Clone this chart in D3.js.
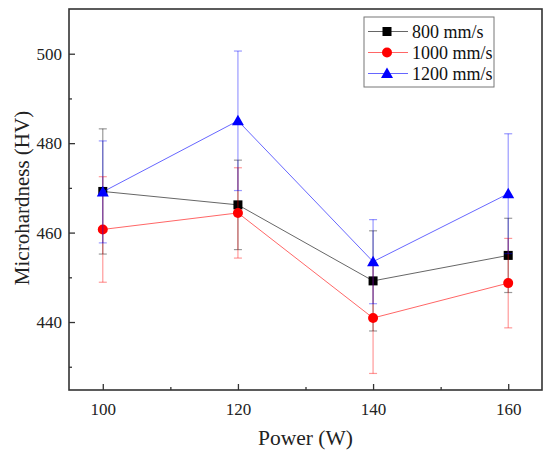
<!DOCTYPE html>
<html lang="en">
<head>
  <meta charset="UTF-8">
  <title>Microhardness vs power</title>
  <script src="https://d3js.org/d3.v7.min.js"></script>
  <style>
    body { margin: 0; background: #fff; }
  </style>
</head>
<body>
<svg id="chart" width="550" height="456"></svg>
<script>
  // power levels (W)
  const power = [100, 120, 140, 160];
  // scan speeds
  const speeds = ["800 mm/s", "1000 mm/s", "1200 mm/s"];
  // mean microhardness (HV)
  const hv800 = [469.2, 466.2, 449.2, 454.9];
  const hv1000 = [460.7, 464.4, 440.9, 448.7];
  const hv1200 = [469.1, 485.0, 453.5, 468.7];
  // error bar half-widths
  const err800 = [14.0, 10.0, 11.2, 8.3];
  const err1000 = [11.8, 10.1, 12.4, 10.0];
  const err1200 = [11.4, 15.6, 9.4, 13.4];
  const xTicks = [100, 120, 140, 160];
  const yTicks = [440, 460, 480, 500];

  const series = [
    {name: speeds[0], values: hv800, err: err800, color: "#000000", shape: "square"},
    {name: speeds[1], values: hv1000, err: err1000, color: "#ff0000", shape: "circle"},
    {name: speeds[2], values: hv1200, err: err1200, color: "#0000ff", shape: "triangle"}
  ];

  const svg = d3.select("#chart");
  const margin = {top: 9, right: 8, bottom: 66, left: 69};
  const width = 550, height = 456;
  const serif = '"Liberation Serif"';

  const x = d3.scaleLinear().domain([95, 165]).range([margin.left, width - margin.right]);
  const y = d3.scaleLinear().domain([424.8, 510]).range([height - margin.bottom, margin.top]);

  const axisColor = "#333";

  // x axis (ticks inward)
  svg.append("g")
    .attr("transform", `translate(0,${height - margin.bottom})`)
    .call(d3.axisBottom(x).tickValues(xTicks).tickSize(-6).tickPadding(13).tickFormat(d3.format("d")));
  svg.append("g")
    .attr("transform", `translate(0,${height - margin.bottom})`)
    .call(d3.axisBottom(x).tickValues([110, 130, 150]).tickSize(-3).tickFormat(""));

  // y axis (ticks inward)
  svg.append("g")
    .attr("transform", `translate(${margin.left},0)`)
    .call(d3.axisLeft(y).tickValues(yTicks).tickSize(-6).tickPadding(7).tickFormat(d3.format("d")));
  svg.append("g")
    .attr("transform", `translate(${margin.left},0)`)
    .call(d3.axisLeft(y).tickValues([430, 450, 470, 490]).tickSize(-3).tickFormat(""));

  svg.selectAll(".tick text")
    .style("font-family", serif).style("font-size", "17px").attr("fill", "#222");
  svg.selectAll(".domain").remove();
  svg.selectAll(".tick line").attr("stroke", axisColor).attr("stroke-width", 1.3);

  // frame
  svg.append("rect")
    .attr("x", margin.left)
    .attr("y", margin.top)
    .attr("width", width - margin.left - margin.right)
    .attr("height", height - margin.top - margin.bottom)
    .attr("fill", "none")
    .attr("stroke", axisColor)
    .attr("stroke-width", 1.6);

  // axis titles
  svg.append("text")
    .attr("x", (margin.left + width - margin.right) / 2)
    .attr("y", 445)
    .attr("text-anchor", "middle")
    .style("font-family", serif).style("font-size", "21.5px")
    .attr("fill", "#222")
    .text("Power (W)");
  svg.append("text")
    .attr("transform", "translate(29,198) rotate(-90)")
    .attr("text-anchor", "middle")
    .style("font-family", serif).style("font-size", "21px")
    .attr("fill", "#222")
    .text("Microhardness (HV)");

  function marker(g, shape, color) {
    if (shape === "square") {
      g.append("rect").attr("x", -4.5).attr("y", -4.5).attr("width", 9).attr("height", 9).attr("fill", color);
    } else if (shape === "circle") {
      g.append("circle").attr("r", 5).attr("fill", color);
    } else {
      g.append("path").attr("d", "M0,-6L6,4.5L-6,4.5Z").attr("fill", color);
    }
  }

  const line = d3.line().x((d, i) => x(power[i])).y(d => y(d));

  series.forEach(s => {
    const g = svg.append("g");
    // error bars
    s.values.forEach((v, i) => {
      const cx = x(power[i]);
      const eg = g.append("g").attr("stroke", s.color).attr("stroke-opacity", 0.4).attr("stroke-width", 1.2);
      eg.append("line").attr("x1", cx).attr("x2", cx).attr("y1", y(v - s.err[i])).attr("y2", y(v + s.err[i]));
      [v - s.err[i], v + s.err[i]].forEach(e => {
        eg.append("line").attr("x1", cx - 4).attr("x2", cx + 4).attr("y1", y(e)).attr("y2", y(e));
      });
    });
    g.append("path")
      .attr("d", line(s.values))
      .attr("fill", "none")
      .attr("stroke", s.color)
      .attr("stroke-opacity", 0.6)
      .attr("stroke-width", 1);
    s.values.forEach((v, i) => {
      marker(g.append("g").attr("transform", `translate(${x(power[i])},${y(v)})`), s.shape, s.color);
    });
  });

  // legend
  const lg = svg.append("g").attr("transform", "translate(364,17)");
  lg.append("rect").attr("width", 130).attr("height", 70)
    .attr("fill", "#fff").attr("stroke", "#777").attr("stroke-width", 1);
  series.forEach((s, i) => {
    const row = lg.append("g").attr("transform", `translate(0,${14.5 + i * 21})`);
    row.append("line").attr("x1", 4).attr("x2", 44).attr("y1", 0).attr("y2", 0)
      .attr("stroke", s.color).attr("stroke-opacity", 0.6).attr("stroke-width", 1);
    marker(row.append("g").attr("transform", "translate(23,0)"), s.shape, s.color);
    row.append("text").attr("x", 48).attr("y", 0).attr("dy", "0.35em")
      .style("font-family", serif).style("font-size", "18px")
      .attr("fill", "#111").text(s.name);
  });
</script>
</body>
</html>
